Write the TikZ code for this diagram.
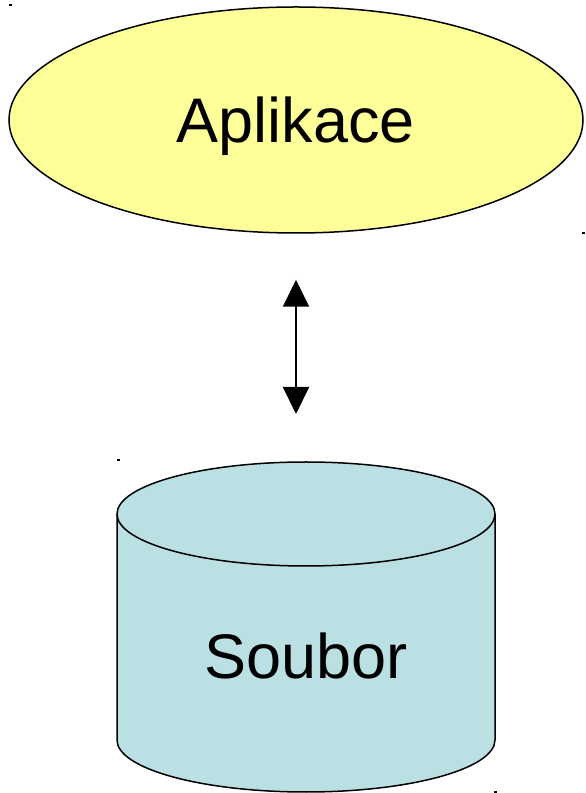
\documentclass[tikz,border=0pt]{standalone}
\usepackage{fontspec}
\setmainfont{Liberation Sans}
\usetikzlibrary{positioning,shapes.geometric,arrows.meta}
\definecolor{appyellow}{HTML}{FFFF99}
\definecolor{fileblue}{HTML}{BBE0E3}
\tikzset{
  appnode/.style={ellipse, draw, line width=1.5pt, fill=appyellow, minimum width=574pt, minimum height=226pt, inner sep=0pt, text depth=0pt, font=\fontsize{63}{70}\selectfont},
  filetext/.style={font=\fontsize{63}{70}\selectfont},
  link/.style={line width=2pt, {Triangle[width=26pt,length=27pt]}-{Triangle[width=26pt,length=27pt]}}
}
\begin{document}
\begin{tikzpicture}[x=1pt,y=1pt]
                \useasboundingbox (0,0) rectangle (586,793);
                \node[appnode] (aplikace) at (296,673) {Aplikace};
                % cylinder
                \fill[fileblue] (117,279) -- (117,53) arc[start angle=180, end angle=360, x radius=189, y radius=52] -- (495,279) arc[start angle=0, end angle=180, x radius=189, y radius=52] -- cycle;
                \draw[line width=1.5pt] (117,279) -- (117,53) arc[start angle=180, end angle=360, x radius=189, y radius=52] -- (495,279);
                \draw[line width=1.5pt] (306,279) ellipse[x radius=189, y radius=52];
                \node[filetext] (soubor) at (306,137) {Soubor};
                \coordinate (cyltop) at (296,332);
                \draw[link] (aplikace.south) -- (cyltop) [shorten <=46pt, shorten >=47pt];
                % corner marks
                \fill (9,787) rectangle (12,789);
                \fill (582,559) rectangle (585,561);
                \fill (117,332) rectangle (120,334);
                \fill (494,0) rectangle (497,2);
\end{tikzpicture}
\end{document}
